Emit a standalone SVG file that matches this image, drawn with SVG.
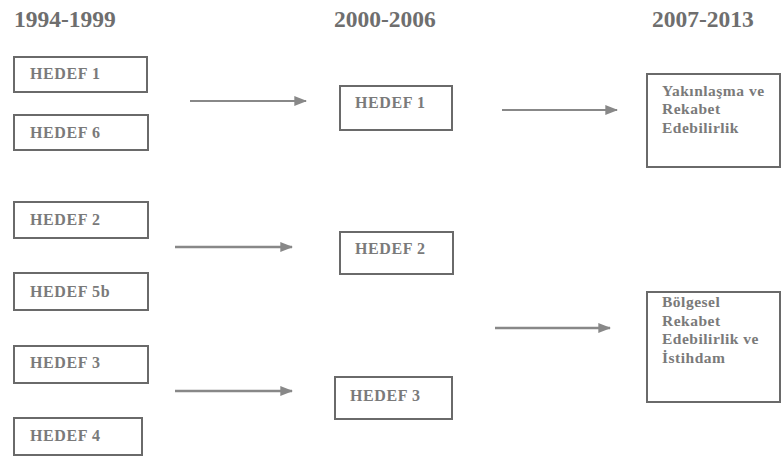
<svg xmlns="http://www.w3.org/2000/svg" width="784" height="459" viewBox="0 0 784 459">
<style>
.hdr{font-family:"Liberation Serif",serif;font-weight:bold;font-size:23.5px;fill:#6e6e6e}
.box rect{fill:#fff;stroke:#6a6a6a;stroke-width:2}
.box text{font-family:"Liberation Serif",serif;font-weight:bold;font-size:16px;fill:#7a7a7a;letter-spacing:0.6px}
.big text{font-weight:bold;font-size:15.5px;letter-spacing:0.5px}
.conn line{stroke:#888;stroke-width:2.5}
.conn .thin{stroke-width:1.8}
</style>
<defs>
<marker id="ah" viewBox="0 0 10 10" refX="9" refY="5" markerWidth="13" markerHeight="10" markerUnits="userSpaceOnUse" orient="auto" preserveAspectRatio="none">
<path d="M0,0 L10,5 L0,10 z" fill="#888"/>
</marker>
</defs>
<rect width="784" height="459" fill="#fff"/>
<text class="hdr" x="14" y="27">1994-1999</text>
<text class="hdr" x="334" y="27">2000-2006</text>
<text class="hdr" x="652" y="27">2007-2013</text>

<g id="l-hedef1" class="box"><rect x="14" y="57" width="133" height="35"/><text x="30" y="79">HEDEF 1</text></g>
<g id="l-hedef6" class="box"><rect x="14" y="115" width="134" height="35"/><text x="30" y="138">HEDEF 6</text></g>
<g id="l-hedef2" class="box"><rect x="14" y="202" width="134" height="36"/><text x="30" y="225">HEDEF 2</text></g>
<g id="l-hedef5b" class="box"><rect x="14" y="273" width="134" height="37"/><text x="30" y="297">HEDEF 5b</text></g>
<g id="l-hedef3" class="box"><rect x="14" y="346" width="134" height="37"/><text x="30" y="368">HEDEF 3</text></g>
<g id="l-hedef4" class="box"><rect x="14" y="418" width="128" height="37"/><text x="30" y="441">HEDEF 4</text></g>

<g id="m-hedef1" class="box"><rect x="340" y="86" width="112" height="44"/><text x="355" y="108">HEDEF 1</text></g>
<g id="m-hedef2" class="box"><rect x="340" y="232" width="113" height="42"/><text x="355" y="254">HEDEF 2</text></g>
<g id="m-hedef3" class="box"><rect x="335" y="377" width="117" height="42"/><text x="350" y="401">HEDEF 3</text></g>

<g id="r-yakinlasma" class="box big"><rect x="647" y="74" width="133" height="93"/>
<text x="662" y="96">Yakınlaşma ve</text><text x="662" y="114">Rekabet</text><text x="662" y="133">Edebilirlik</text></g>
<g id="r-bolgesel" class="box big"><rect x="647" y="292" width="133" height="110"/>
<text x="662" y="307">Bölgesel</text><text x="662" y="326">Rekabet</text><text x="662" y="344">Edebilirlik ve</text><text x="662" y="363">İstihdam</text></g>

<g id="connectors" class="conn">
<line class="thin" x1="190" y1="101" x2="306" y2="101" marker-end="url(#ah)"/>
<line class="thin" x1="502" y1="110" x2="617" y2="110" marker-end="url(#ah)"/>
<line x1="175" y1="247" x2="292" y2="247" marker-end="url(#ah)"/>
<line x1="495" y1="328" x2="610" y2="328" marker-end="url(#ah)"/>
<line x1="175" y1="391" x2="292" y2="391" marker-end="url(#ah)"/>
</g>
</svg>
